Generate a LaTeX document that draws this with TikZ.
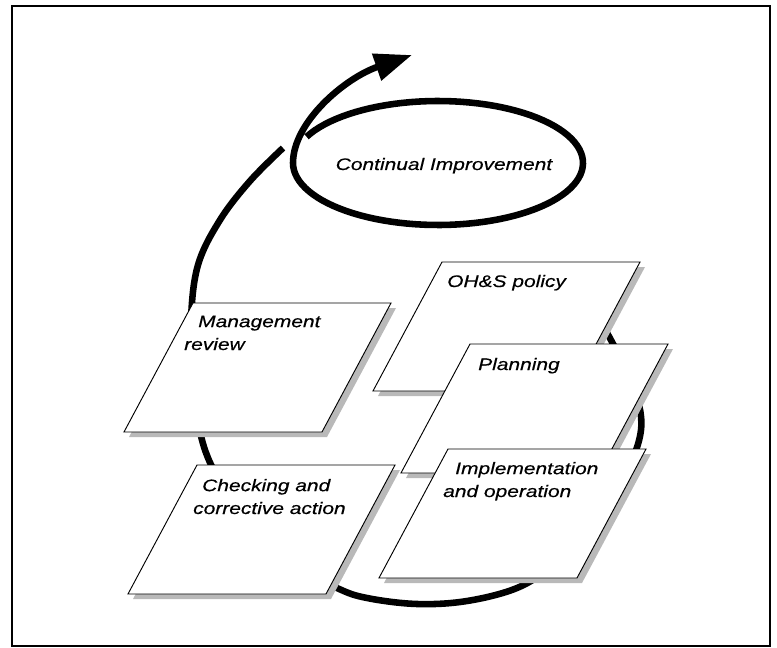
\documentclass[tikz,border=0pt]{standalone}
\usepackage{fontspec}
\newfontfamily\labelfont[FakeStretch=1.25,FakeBold=0.4]{Liberation Sans}
\usetikzlibrary{arrows.meta}

%% one sheet of the cycle: shadow, then white parallelogram on top
\newcommand{\sheet}[3]{% #1 name, #2/#3 top left corner
  \fill[sheetshadow] (#2+5,#3+5) -- ++(198,0) -- ++(-69,129) -- ++(-198,0) -- cycle;
  \draw[sheetbox] (#2,#3) coordinate (#1) -- ++(198,0) -- ++(-69,129)
        -- ++(-198,0) -- cycle;
}

\begin{document}
\begin{tikzpicture}[x=0.03cm,y=-0.03cm,
    loopline/.style={line width=5.6pt},
    sheetbox/.style={fill=white,line width=0.8pt},
    sheetshadow/.style={fill=gray!55},
    sheettext/.style={font=\labelfont\itshape\fontsize{14.3}{19.5}\selectfont,
        inner sep=0pt,align=left,anchor=base west}]
  \useasboundingbox (0,0) rectangle (777,648);

  %% frame
  \draw[line width=1.2pt] (12,6) rectangle (770,646);

  %% big cycle (runs behind the sheets)
  \draw[loopline] plot[smooth,tension=0.6] coordinates {
      (598,318) (612,342) (633,385) (641,430) (622,482) (590,532)
      (552,566) (517,588) (467,601) (417,604) (367,598) (337,588)
      (290,563) (250,528) (220,482) (202,440) (193,380) (191,320)
      (198,265) (220,220) (250,181) (283,148)};

  %% continual improvement loop with arrow
  \draw[loopline,-{Triangle[length=32pt,width=23pt]}]
      plot[domain=205:540,samples=100] ({438+145*cos(\x)},{163+62*sin(\x)})
      .. controls (293,122) and (345,78) .. (412,55);
  \node[sheettext,anchor=base] (ci) at (444,170) {Continual Improvement};

  %% sheets (base of a two-line label is its last line)
  \sheet{mr}{193}{303}
  \node[sheettext] (mrtext) at (184,350) {\hspace*{0.42cm}Management\\review};

  \sheet{ck}{197}{465}
  \node[sheettext] (cktext) at (193,514)
        {\hspace*{0.27cm}Checking and\\corrective action};

  \sheet{pol}{442}{262}
  \node[sheettext] (poltext) at (447,287) {OH\&S policy};

  \sheet{pl}{470}{344}
  \node[sheettext] (pltext) at (478,370) {Planning};

  \sheet{im}{448}{449}
  \node[sheettext] (imtext) at (443,497)
        {\hspace*{0.36cm}Implementation\\and operation};
\end{tikzpicture}
\end{document}
